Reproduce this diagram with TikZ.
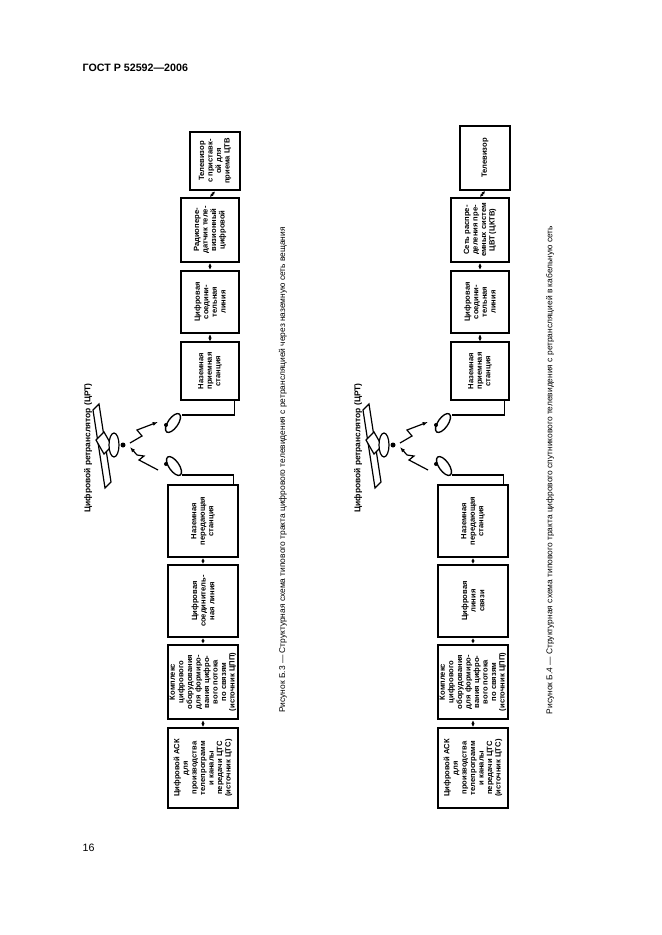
\documentclass[tikz,border=0pt]{standalone}
\usepackage{fontspec}
\setmainfont{Liberation Sans}
\usetikzlibrary{arrows.meta,positioning}

\tikzset{
  box/.style={draw, line width=1.5pt, rotate=90, align=center, inner sep=1pt,
    font=\bfseries\fontsize{5.7}{6.4}\selectfont},
  link/.style={line width=0.9pt, {Latex[length=2.5pt,width=2.5pt]}-{Latex[length=2.5pt,width=2.5pt]}},
  feed/.style={line width=1pt},
  wave/.style={line width=0.9pt, -{Latex[length=4pt,width=3pt]}},
  figcap/.style={rotate=90, font=\fontsize{6.3}{7.5}\selectfont},
}

% спутник и антенны
\newcommand{\satpart}[1]{%
  \begin{scope}[xshift=#1*0.75pt]
    \draw[line width=0.9pt] (93,410) -- (99,404) -- (111,482) -- (105,488) -- cycle;
    \draw[line width=0.9pt, fill=white] (96,440) -- (104,432) -- (112,446) -- (104,454) -- cycle;
    \draw[line width=0.9pt, fill=white] (114,445) ellipse [x radius=5, y radius=12];
    \fill (123,445) circle (2.5);
    \draw[wave] (130,443) -- (142,436) -- (137,430) -- (158,422);
    \draw[wave] (137,455) -- (130,447);
    \draw[line width=0.9pt] (158,470) -- (139,460) -- (144,456) -- (137,455);
    \draw[line width=1pt, fill=white, rotate around={-35:(173,423)}] (173,423) ellipse [x radius=5, y radius=11];
    \draw[line width=1pt, fill=white, rotate around={35:(174,466)}] (174,466) ellipse [x radius=5, y radius=11];
    \fill (166,425) circle (2);
    \fill (166,464) circle (2);
  \end{scope}}

\begin{document}
\begin{tikzpicture}[x=0.75pt, y=-0.75pt]
  \useasboundingbox (0,0) rectangle (661,935);

  \node[anchor=west, font=\bfseries\fontsize{8}{9}\selectfont] (title) at (78,68) {ГОСТ Р 52592—2006};
  \node[anchor=west, font=\fontsize{8}{9}\selectfont] (page) at (78,848) {16};

  % рисунок Б.3
  \node[box, minimum width=60pt, minimum height=52pt] (ask1) at (203,768) {Цифровой АСК\\для\\производства\\телепрограмм\\и каналы\\передачи ЦТС\\(источник ЦТС)};
  \node[box, minimum width=56pt, minimum height=52pt] (kom1) at (203,682) {Комплекс\\цифрового\\оборудования\\для формиро-\\вания цифро-\\вого потока\\по связям\\(источник ЦПП)};
  \node[box, minimum width=54pt, minimum height=52pt] (lin1) at (203,601) {Цифровая\\соединитель-\\ная линия};
  \node[box, minimum width=54pt, minimum height=52pt] (pst1) at (203,521) {Наземная\\передающая\\станция};
  \node[box, minimum width=43pt, minimum height=43pt] (prs1) at (210,371) {Наземная\\приемная\\станция};
  \node[box, minimum width=47pt, minimum height=43pt] (cdl1) at (210,302) {Цифровая\\соедини-\\тельная\\линия};
  \node[box, minimum width=48pt, minimum height=43pt] (rad1) at (210,230) {Радиопере-\\датчик теле-\\визионный\\цифровой};
  \node[box, minimum width=44pt, minimum height=37pt] (tv1) at (215,161) {Телевизор\\с приставк-\\ой для\\приема ЦТВ};
  \draw[link] (ask1.east) -- (kom1.west);
  \draw[link] (kom1.east) -- (lin1.west);
  \draw[link] (lin1.east) -- (pst1.west);
  \draw[link] (prs1.east) -- (cdl1.west);
  \draw[link] (cdl1.east) -- (rad1.west);
  \draw[link] (rad1.east) -- (tv1.west);
  \draw[feed] (pst1.south east) ++(-5,0) |- (182,475);
  \draw[feed] (prs1.south west) ++(-5,0) |- (182,415);
  \satpart{0}
  \node[figcap, font=\bfseries\fontsize{6.3}{7.5}\selectfont] (rt1) at (88,448) {Цифровой ретранслятор (ЦРТ)};
  \node[figcap] (fig3) at (283,470) {Рисунок Б.3 — Структурная схема типового тракта цифрового телевидения с ретрансляцией через наземную сеть вещания};

  % рисунок Б.4
  \node[box, minimum width=60pt, minimum height=52pt] (ask2) at (473,768) {Цифровой АСК\\для\\производства\\телепрограмм\\и каналы\\передачи ЦТС\\(источник ЦТС)};
  \node[box, minimum width=56pt, minimum height=52pt] (kom2) at (473,682) {Комплекс\\цифрового\\оборудования\\для формиро-\\вания цифро-\\вого потока\\по связям\\(источник ЦПП)};
  \node[box, minimum width=54pt, minimum height=52pt] (lin2) at (473,601) {Цифровая\\линия\\связи};
  \node[box, minimum width=54pt, minimum height=52pt] (pst2) at (473,521) {Наземная\\передающая\\станция};
  \node[box, minimum width=43pt, minimum height=43pt] (prs2) at (480,371) {Наземная\\приемная\\станция};
  \node[box, minimum width=47pt, minimum height=43pt] (cdl2) at (480,302) {Цифровая\\соедини-\\тельная\\линия};
  \node[box, minimum width=48pt, minimum height=43pt] (net2) at (480,230) {Сеть распре-\\деления пре-\\емных систем\\ЦВТ (ЦКТВ)};
  \node[box, minimum width=48pt, minimum height=38pt] (tv2) at (485,158) {Телевизор};
  \draw[link] (ask2.east) -- (kom2.west);
  \draw[link] (kom2.east) -- (lin2.west);
  \draw[link] (lin2.east) -- (pst2.west);
  \draw[link] (prs2.east) -- (cdl2.west);
  \draw[link] (cdl2.east) -- (net2.west);
  \draw[link] (net2.east) -- (tv2.west);
  \draw[feed] (pst2.south east) ++(-5,0) |- (452,475);
  \draw[feed] (prs2.south west) ++(-5,0) |- (452,415);
  \satpart{270}
  \node[figcap, font=\bfseries\fontsize{6.3}{7.5}\selectfont] (rt2) at (358,448) {Цифровой ретранслятор (ЦРТ)};
  \node[figcap] (fig4) at (550,470) {Рисунок Б.4 — Структурная схема типового тракта цифрового спутникового телевидения с ретрансляцией в кабельную сеть};
\end{tikzpicture}
\end{document}
